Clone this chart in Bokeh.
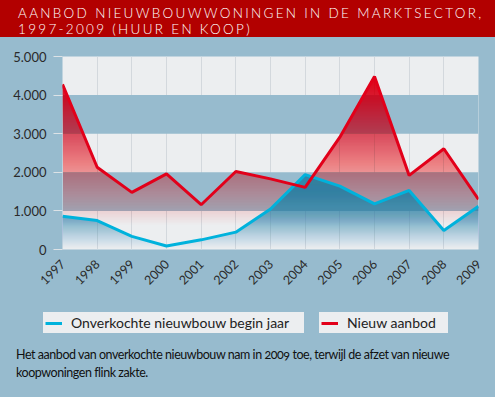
import math
import numpy as np
from bokeh.plotting import figure
from bokeh.models import Range1d, FixedTicker, Legend, LegendItem, Div
from bokeh.layouts import column
from bokeh.embed import file_html
from bokeh.resources import INLINE

# ---------------- data ----------------
years = [1997, 1998, 1999, 2000, 2001, 2002, 2003, 2004, 2005, 2006, 2007, 2008, 2009]
onverkocht = [860, 750, 340, 90, 250, 450, 1050, 1940, 1640, 1180, 1530, 490, 1120]
aanbod = [4280, 2130, 1480, 1960, 1160, 2020, 1830, 1610, 2910, 4480, 1920, 2610, 1300]
y_ticks = [0, 1000, 2000, 3000, 4000, 5000]
y_tick_labels = ["0", "1.000", "2.000", "3.000", "4.000", "5.000"]
x_tick_labels = [str(y) for y in years]
series_names = ["Onverkochte nieuwbouw begin jaar", "Nieuw aanbod"]
title_lines = ["AANBOD NIEUWBOUWWONINGEN IN DE MARKTSECTOR,", "1997-2009 (HUUR EN KOOP)"]
caption_lines = ["Het aanbod van onverkochte nieuwbouw nam in 2009 toe, terwijl de afzet van nieuwe",
                 "koopwoningen flink zakte."]

# ---------------- style ----------------
BG = "#97BBCE"
LIGHT = "#ECEEF0"
TITLE_BG = "#B20000"
RED = "#E2001A"
BLUE_LINE = "#00B2DC"
BLUE_FILL = "#2A8EB8"
FONT = "Lato"

W = 495


def clip_above(xs, ys, level):
    """Polygon of the region between `level` and the polyline (where the line is above level)."""
    px, py = [], []
    for i in range(len(xs)):
        if i > 0:
            y0, y1 = ys[i - 1], ys[i]
            if (y0 - level) * (y1 - level) < 0:
                t = (level - y0) / (y1 - y0)
                px.append(xs[i - 1] + t * (xs[i] - xs[i - 1]))
                py.append(level)
        px.append(xs[i])
        py.append(max(ys[i], level))
    px += [xs[-1], xs[0]]
    py += [level, level]
    return px, py


def gradient_fill(p, xs, ys, color, levels, stops_y, stops_a):
    polys_x, polys_y, alphas = [], [], []
    prev = 0.0
    for lvl in levels:
        A = float(np.interp(lvl, stops_y, stops_a))
        a = 0.0 if prev >= 1 else 1 - (1 - A) / (1 - prev)
        prev = A
        if a <= 0:
            continue
        px, py = clip_above(xs, ys, lvl)
        polys_x.append(px)
        polys_y.append(py)
        alphas.append(a)
    p.patches(xs=polys_x, ys=polys_y, fill_color=color, fill_alpha=alphas, line_color=None)


p = figure(width=W, height=263, x_range=Range1d(years[0], years[-1]), y_range=Range1d(0, 5000),
           output_backend="svg", toolbar_location=None,
           min_border_left=62, min_border_right=17, min_border_top=19, min_border_bottom=51,
           background_fill_color=LIGHT, border_fill_color=BG, outline_line_color=None)
p.frame_align = False

# grid: alternating bands
p.ygrid.ticker = FixedTicker(ticks=y_ticks)
p.ygrid.grid_line_color = None
p.ygrid.band_fill_color = BG
p.ygrid.band_fill_alpha = 1
p.xgrid.ticker = FixedTicker(ticks=years)
p.xgrid.grid_line_color = "#D3D8DD"
p.xgrid.grid_line_width = 1

# gradient areas
gradient_fill(p, years, aanbod, RED, list(range(0, 4600, 40)),
              [0, 600, 1000, 2000, 3000, 4000, 4500], [0, 0.02, 0.14, 0.36, 0.62, 0.86, 1.0])
gradient_fill(p, years, onverkocht, BLUE_FILL, list(range(0, 2000, 25)),
              [0, 1000, 2000], [0, 0.68, 0.82])

p.line(years, onverkocht, line_color=BLUE_LINE, line_width=3)
p.line(years, aanbod, line_color=RED, line_width=3)

# axes
p.yaxis.ticker = FixedTicker(ticks=y_ticks)
p.yaxis.major_label_overrides = dict(zip(y_ticks, y_tick_labels))
p.yaxis.axis_line_color = None
p.yaxis.minor_tick_line_color = None
p.yaxis.major_tick_in = 0
p.yaxis.major_tick_out = 9
p.yaxis.major_tick_line_color = "#DCE2E6"
p.yaxis.major_label_standoff = 7
p.yaxis.major_label_text_font = FONT
p.yaxis.major_label_text_font_size = "13px"
p.yaxis.major_label_text_color = "#2A2A2A"

p.xaxis.ticker = FixedTicker(ticks=years)
p.xaxis.major_label_overrides = dict(zip(years, x_tick_labels))
p.xaxis.axis_line_color = None
p.xaxis.minor_tick_line_color = None
p.xaxis.major_tick_line_color = None
p.xaxis.major_tick_in = 0
p.xaxis.major_tick_out = 0
p.xaxis.major_label_orientation = math.pi / 4
p.xaxis.major_label_standoff = 12
p.xaxis.major_label_text_font = FONT
p.xaxis.major_label_text_font_size = "12.5px"
p.xaxis.major_label_text_color = "#2A2A2A"

# ---------------- legend strip ----------------
lp = figure(width=W, height=40, x_range=Range1d(0, 1), y_range=Range1d(0, 1),
            x_axis_type=None, y_axis_type=None,
            output_backend="svg", toolbar_location=None, min_border=0,
            background_fill_color=BG, border_fill_color=BG, outline_line_color=None)
lp.frame_align = False
lp.grid.visible = False
# legend proxies: the series themselves, outside this strip's visible range
lr_blue = lp.line(years, onverkocht, line_color=BLUE_LINE, line_width=3)
lr_red = lp.line(years, aanbod, line_color=RED, line_width=3)


def make_legend(item, loc, lw):
    lg = Legend(items=[item], location=loc, orientation="horizontal",
                background_fill_color=LIGHT, background_fill_alpha=1,
                border_line_alpha=0, margin=0, padding=2,
                glyph_width=17, glyph_height=14, label_height=14, label_width=lw,
                label_standoff=9, label_text_font=FONT, label_text_font_size="14px",
                label_text_color="#222222")
    lp.add_layout(lg)


make_legend(LegendItem(label=series_names[0], renderers=[lr_blue]), (43, 7), 231)
make_legend(LegendItem(label=series_names[1], renderers=[lr_red]), (319, 7), 99)

title = Div(text=('<div style="padding:6px 0 0 18px; letter-spacing:2.3px; font-family:Lato; '
                  'font-weight:300; font-size:13.5px; line-height:15.5px; color:#FFFFFF; white-space:nowrap">'
                  + "<br>".join(title_lines) + "</div>"),
            width=W, height=37, margin=0, styles={"background-color": TITLE_BG, "overflow": "hidden"})

caption = Div(text=('<div style="padding:6px 0 0 16px; font-family:Lato; font-size:12.5px; letter-spacing:-0.45px; '
                    'line-height:18px; color:#111111; white-space:nowrap; font-variant-numeric:oldstyle-nums">'
                    + "<br>".join(caption_lines) + "</div>"),
              width=W, height=57, margin=0, styles={"background-color": BG, "overflow": "hidden"})

layout = column(title, p, lp, caption, spacing=0, styles={"background-color": BG})

open("out.html", "w").write(file_html(layout, INLINE))
